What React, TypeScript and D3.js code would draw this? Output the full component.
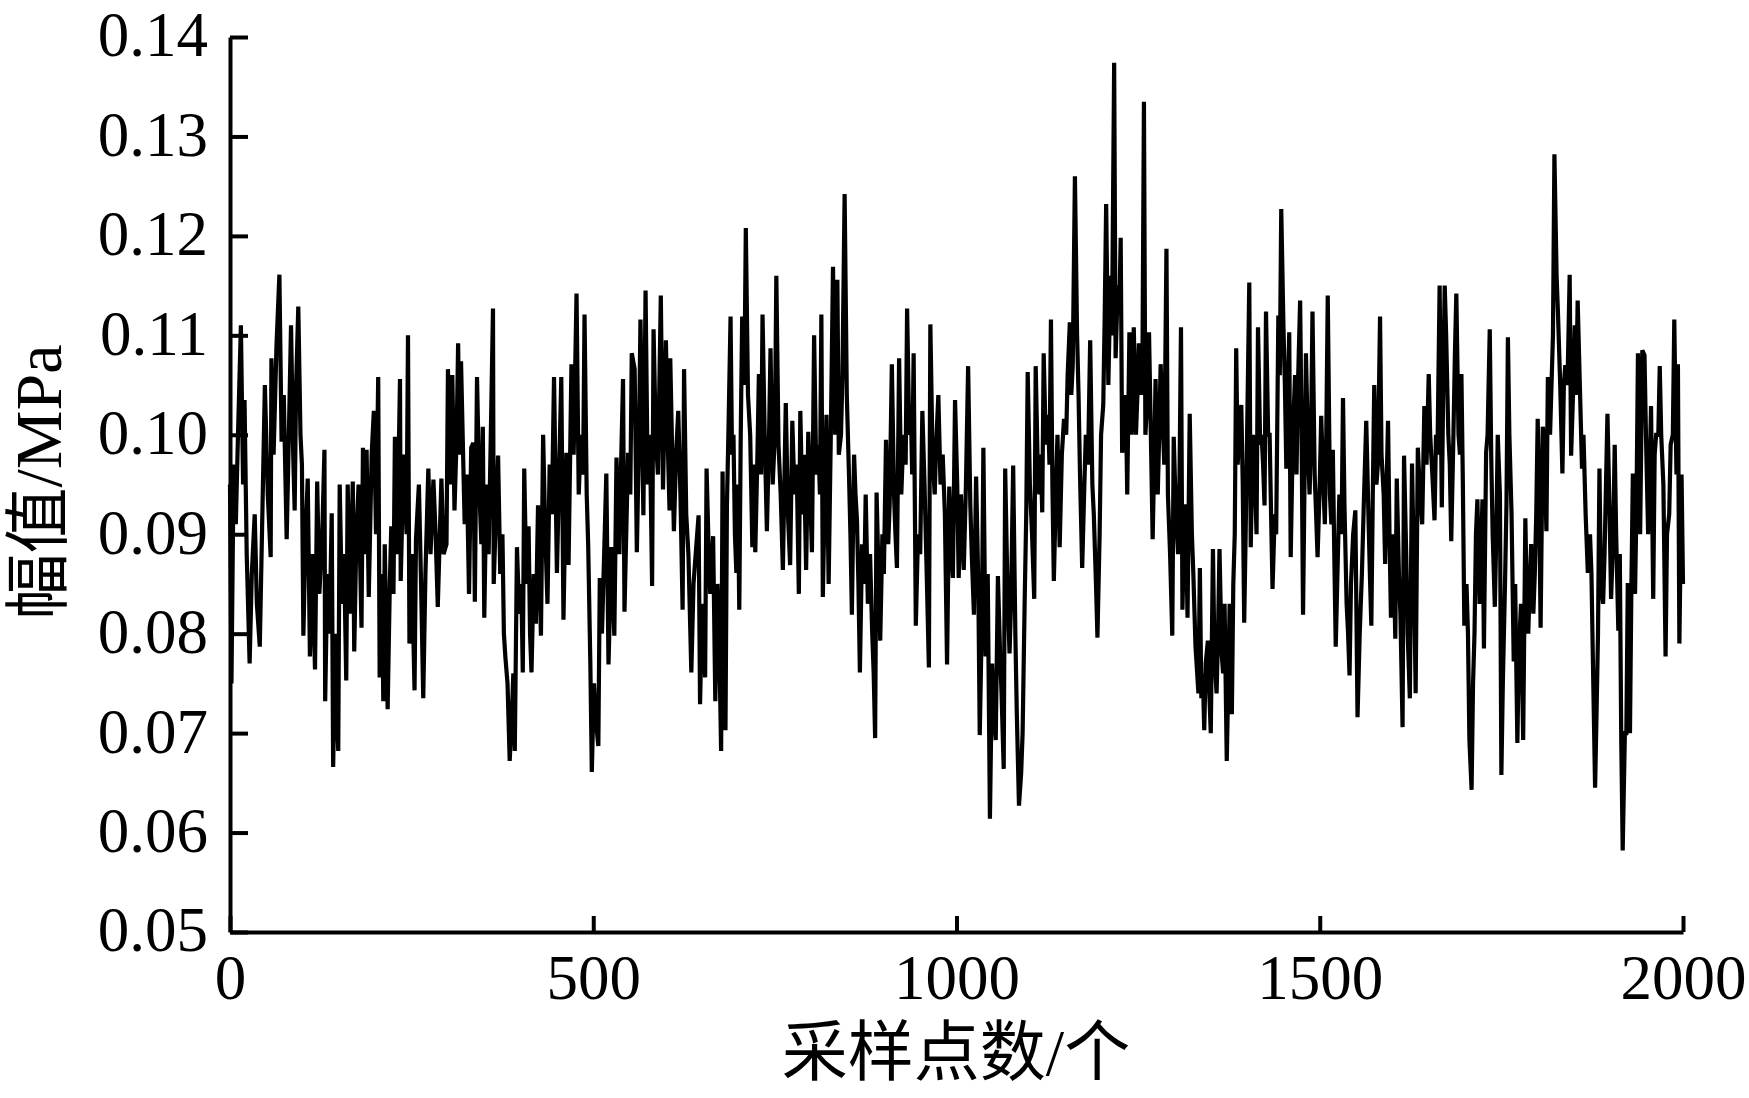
import React, { useEffect, useRef } from 'react';
import * as d3 from 'd3';

// [sample index, amplitude MPa] in six stretches
const part1: [number, number][] = [
  [0, 0.095], [2, 0.075], [5, 0.097], [8, 0.091], [11, 0.1], [15, 0.111], [18, 0.095], [20, 0.1035], [23, 0.088], [27, 0.077],
  [30, 0.086], [34, 0.092], [37, 0.083], [41, 0.0787], [44, 0.09], [48, 0.105], [52, 0.094], [56, 0.0877], [57, 0.1077], [60, 0.098],
  [64, 0.109], [68, 0.1161], [71, 0.0993], [74, 0.104], [78, 0.0895], [81, 0.1], [84, 0.111], [87, 0.098], [89, 0.0924], [91, 0.105],
  [94, 0.1129], [97, 0.1], [99, 0.097], [101, 0.0798], [104, 0.09], [107, 0.0956], [110, 0.0777], [113, 0.088], [117, 0.0764], [120, 0.0953],
  [123, 0.084], [127, 0.09], [130, 0.0985], [131, 0.0732], [134, 0.086], [137, 0.08], [140, 0.0921], [142, 0.0666], [145, 0.08], [147, 0.072],
  [149, 0.0682], [151, 0.095], [154, 0.083], [157, 0.088], [160, 0.0753], [162, 0.095], [165, 0.082], [169, 0.0953], [171, 0.0782], [174, 0.09],
  [177, 0.095], [181, 0.0806], [183, 0.0987], [186, 0.088], [188, 0.0985], [191, 0.0837], [195, 0.098], [198, 0.1024], [201, 0.09], [204, 0.1058],
  [206, 0.0756], [209, 0.086], [211, 0.0732], [213, 0.089], [217, 0.0724], [220, 0.085], [222, 0.0908], [225, 0.084], [227, 0.0998], [230, 0.088],
  [234, 0.1056], [235, 0.0853], [238, 0.095], [240, 0.098], [243, 0.09], [245, 0.11], [247, 0.079], [250, 0.088], [254, 0.0743], [256, 0.0895],
  [260, 0.095], [263, 0.085], [266, 0.0735], [269, 0.086], [273, 0.0966], [276, 0.088], [280, 0.0955], [283, 0.09], [286, 0.0827], [291, 0.0956],
  [294, 0.088], [298, 0.089], [300, 0.1066], [303, 0.095], [306, 0.106], [309, 0.0924], [312, 0.1], [314, 0.1092], [316, 0.098], [318, 0.1074],
  [323, 0.091], [326, 0.096], [329, 0.084], [332, 0.0987],
];

const part2: [number, number][] = [
  [335, 0.0992], [337, 0.0832], [340, 0.1058], [343, 0.095], [346, 0.089], [348, 0.1008], [350, 0.0816], [353, 0.095], [356, 0.088], [359, 0.1],
  [362, 0.1127], [363, 0.085], [366, 0.092], [369, 0.0979], [372, 0.086], [375, 0.09], [377, 0.08], [379, 0.0777], [382, 0.075], [385, 0.0672],
  [388, 0.072], [390, 0.076], [392, 0.0682], [395, 0.0887], [398, 0.082], [401, 0.085], [403, 0.0761], [405, 0.0966], [408, 0.085], [411, 0.0908],
  [413, 0.08], [415, 0.0761], [418, 0.086], [421, 0.081], [424, 0.0929], [428, 0.0798], [431, 0.1], [434, 0.09], [437, 0.083], [440, 0.097],
  [443, 0.092], [446, 0.1058], [450, 0.0861], [453, 0.096], [456, 0.1058], [459, 0.0814], [463, 0.0982], [466, 0.0869], [470, 0.1071], [473, 0.098],
  [477, 0.1142], [480, 0.094], [483, 0.1], [486, 0.096], [488, 0.1121], [491, 0.094], [493, 0.089], [496, 0.077], [498, 0.0661], [501, 0.075],
  [504, 0.071], [507, 0.0687], [509, 0.0856], [512, 0.08], [515, 0.088], [518, 0.0961], [521, 0.0769], [525, 0.0887], [529, 0.0798], [532, 0.0977],
  [536, 0.088], [538, 0.096], [541, 0.1056], [543, 0.0822], [546, 0.092], [548, 0.0982], [551, 0.094], [553, 0.1082], [557, 0.1066], [560, 0.0882],
  [563, 0.1], [565, 0.1116], [569, 0.0919], [572, 0.1145], [575, 0.095], [578, 0.1], [581, 0.0848], [583, 0.1106], [586, 0.1], [589, 0.096],
  [593, 0.114], [596, 0.0945], [600, 0.1095], [603, 0.098], [605, 0.0924], [606, 0.1077], [609, 0.097], [611, 0.0903], [614, 0.098], [617, 0.1024],
  [620, 0.094], [623, 0.0824], [625, 0.1066], [628, 0.092], [631, 0.088], [635, 0.0761], [638, 0.085], [641, 0.088], [645, 0.0919], [647, 0.0729],
  [650, 0.083], [654, 0.0756], [656, 0.0966], [659, 0.088], [661, 0.084], [665, 0.0898],
];

const part3: [number, number][] = [
  [668, 0.0732], [671, 0.085], [673, 0.081], [676, 0.0682], [678, 0.0963], [682, 0.0703], [684, 0.0929], [686, 0.1], [689, 0.1119], [691, 0.098],
  [693, 0.1], [695, 0.09], [697, 0.0861], [699, 0.095], [701, 0.0824], [703, 0.1], [705, 0.1119], [708, 0.105], [710, 0.1208], [713, 0.104],
  [716, 0.1], [719, 0.0887], [721, 0.097], [723, 0.0882], [726, 0.098], [728, 0.1061], [731, 0.096], [733, 0.1121], [736, 0.1], [739, 0.0903],
  [742, 0.1], [744, 0.1087], [747, 0.095], [750, 0.1], [752, 0.116], [755, 0.099], [758, 0.094], [761, 0.0864], [765, 0.1032], [768, 0.092],
  [771, 0.0869], [774, 0.1014], [777, 0.094], [780, 0.097], [783, 0.084], [785, 0.1024], [788, 0.092], [790, 0.098], [793, 0.0864], [796, 0.1003],
  [799, 0.093], [801, 0.0882], [804, 0.11], [807, 0.096], [810, 0.099], [812, 0.094], [814, 0.1121], [816, 0.0837], [819, 0.095], [821, 0.102],
  [824, 0.085], [827, 0.1], [830, 0.1169], [833, 0.1], [836, 0.1156], [838, 0.098], [841, 0.1], [843, 0.106], [846, 0.1242], [849, 0.104],
  [852, 0.096], [854, 0.09], [856, 0.0819], [859, 0.098], [861, 0.094], [863, 0.0914], [865, 0.085], [867, 0.0761], [870, 0.089], [873, 0.085],
  [875, 0.094], [878, 0.083], [881, 0.088], [884, 0.08], [886, 0.076], [888, 0.0695], [890, 0.0942], [893, 0.085], [895, 0.0793], [898, 0.09],
  [900, 0.086], [903, 0.0995], [906, 0.089], [908, 0.093], [911, 0.1071], [914, 0.094], [916, 0.09], [918, 0.0866], [921, 0.1077], [924, 0.094],
  [927, 0.1], [930, 0.097], [932, 0.1127], [935, 0.1], [937, 0.103], [939, 0.096], [941, 0.1082], [944, 0.0808], [947, 0.09], [950, 0.088],
  [953, 0.1024], [956, 0.095], [959, 0.086], [962, 0.0766], [964, 0.1111], [967, 0.098], [970, 0.094], [972, 0.099], [975, 0.104], [978, 0.095],
  [981, 0.098], [984, 0.092], [987, 0.0769], [990, 0.0948], [993, 0.088], [995, 0.0856], [998, 0.1035],
];

const part4: [number, number][] = [
  [1001, 0.095], [1003, 0.0856], [1006, 0.094], [1008, 0.09], [1010, 0.0864], [1013, 0.095], [1016, 0.1069], [1019, 0.093], [1021, 0.088], [1024, 0.0819],
  [1027, 0.0958], [1030, 0.085], [1032, 0.0698], [1035, 0.082], [1037, 0.0987], [1040, 0.0777], [1043, 0.086], [1046, 0.0614], [1049, 0.077], [1051, 0.073],
  [1054, 0.0693], [1057, 0.0858], [1060, 0.078], [1062, 0.074], [1065, 0.0664], [1067, 0.0966], [1070, 0.085], [1073, 0.078], [1075, 0.083], [1078, 0.0969],
  [1081, 0.08], [1083, 0.072], [1086, 0.0627], [1089, 0.066], [1091, 0.07], [1094, 0.084], [1096, 0.092], [1098, 0.1063], [1101, 0.095], [1104, 0.09],
  [1107, 0.0835], [1109, 0.1069], [1112, 0.096], [1114, 0.094], [1116, 0.098], [1118, 0.0922], [1120, 0.1082], [1123, 0.099], [1126, 0.102], [1128, 0.097],
  [1130, 0.1116], [1132, 0.095], [1134, 0.0853], [1137, 0.095], [1139, 0.1], [1142, 0.0887], [1145, 0.098], [1148, 0.1016], [1151, 0.1], [1153, 0.106],
  [1156, 0.1113], [1158, 0.104], [1160, 0.107], [1163, 0.126], [1166, 0.11], [1168, 0.104], [1170, 0.096], [1173, 0.0866], [1176, 0.095], [1178, 0.1],
  [1181, 0.097], [1184, 0.1095], [1187, 0.095], [1189, 0.092], [1192, 0.085], [1194, 0.0796], [1197, 0.09], [1199, 0.1], [1202, 0.103], [1204, 0.112],
  [1206, 0.1232], [1209, 0.105], [1212, 0.116], [1214, 0.11], [1217, 0.1374], [1219, 0.1077], [1222, 0.115], [1224, 0.112], [1226, 0.1198], [1228, 0.0982],
  [1231, 0.1], [1233, 0.104], [1235, 0.094], [1238, 0.1103], [1241, 0.1], [1244, 0.1108], [1247, 0.1], [1249, 0.104], [1251, 0.1092], [1254, 0.104],
  [1256, 0.108], [1258, 0.1335], [1260, 0.1], [1263, 0.104], [1265, 0.1103], [1268, 0.098], [1270, 0.0895], [1272, 0.097], [1274, 0.1056], [1277, 0.094],
  [1279, 0.1], [1281, 0.1071], [1284, 0.101], [1286, 0.097], [1289, 0.1187], [1291, 0.094], [1294, 0.088], [1297, 0.0798], [1299, 0.0998], [1302, 0.092],
  [1305, 0.088], [1307, 0.096], [1309, 0.1108], [1311, 0.0824], [1314, 0.093], [1316, 0.09], [1318, 0.0816], [1321, 0.1021], [1324, 0.09], [1326, 0.086],
  [1329, 0.0787], [1333, 0.074],
];

const part5: [number, number][] = [
  [1335, 0.0866], [1337, 0.0735], [1339, 0.076], [1341, 0.0703], [1343, 0.077], [1346, 0.0793], [1348, 0.074], [1350, 0.07], [1353, 0.0885], [1355, 0.078],
  [1358, 0.074], [1360, 0.08], [1362, 0.0885], [1365, 0.078], [1367, 0.076], [1369, 0.083], [1372, 0.0672], [1374, 0.075], [1376, 0.083], [1379, 0.0719],
  [1381, 0.085], [1383, 0.09], [1385, 0.1087], [1387, 0.097], [1389, 0.1], [1392, 0.103], [1394, 0.095], [1396, 0.0811], [1398, 0.09], [1400, 0.1],
  [1403, 0.1153], [1405, 0.0887], [1408, 0.1], [1410, 0.098], [1413, 0.09], [1415, 0.1108], [1418, 0.099], [1420, 0.1], [1422, 0.097], [1424, 0.0929],
  [1426, 0.1124], [1429, 0.1], [1431, 0.1], [1433, 0.092], [1435, 0.0845], [1438, 0.092], [1440, 0.09], [1443, 0.112], [1445, 0.106], [1447, 0.1227],
  [1450, 0.111], [1452, 0.105], [1454, 0.0966], [1456, 0.104], [1458, 0.1103], [1460, 0.0877], [1463, 0.1], [1466, 0.106], [1468, 0.096], [1470, 0.105],
  [1473, 0.1135], [1475, 0.1], [1477, 0.0819], [1479, 0.095], [1481, 0.1082], [1484, 0.098], [1486, 0.094], [1488, 0.1], [1490, 0.1124], [1493, 0.096],
  [1495, 0.092], [1497, 0.0877], [1500, 0.095], [1502, 0.1019], [1505, 0.095], [1507, 0.091], [1509, 0.1], [1511, 0.114], [1514, 0.094], [1516, 0.091],
  [1518, 0.0985], [1520, 0.088], [1522, 0.0787], [1525, 0.088], [1527, 0.094], [1530, 0.09], [1532, 0.1037], [1534, 0.093], [1537, 0.083], [1539, 0.08],
  [1541, 0.0758], [1543, 0.085], [1546, 0.09], [1549, 0.0924], [1552, 0.0716], [1555, 0.08], [1558, 0.086], [1561, 0.094], [1564, 0.1014], [1567, 0.092],
  [1569, 0.086], [1571, 0.0808], [1573, 0.094], [1575, 0.105], [1578, 0.095], [1580, 0.097], [1583, 0.1119], [1585, 0.098], [1588, 0.094], [1590, 0.087],
  [1592, 0.095], [1594, 0.1014], [1596, 0.09], [1598, 0.0816], [1601, 0.09], [1604, 0.0795], [1606, 0.0956], [1609, 0.086], [1611, 0.082], [1614, 0.0706],
  [1616, 0.0979], [1619, 0.088], [1621, 0.08], [1624, 0.0735], [1627, 0.0971], [1630, 0.085], [1632, 0.074], [1635, 0.0987], [1638, 0.094], [1641, 0.091],
  [1644, 0.1029], [1647, 0.097], [1650, 0.1061], [1652, 0.1], [1655, 0.096], [1658, 0.0914], [1660, 0.1], [1662, 0.098], [1665, 0.115],
];

const part6: [number, number][] = [
  [1668, 0.0927], [1670, 0.105], [1672, 0.115], [1674, 0.11], [1677, 0.1], [1679, 0.097], [1681, 0.0893], [1684, 0.1], [1686, 0.108], [1688, 0.1142],
  [1691, 0.1], [1693, 0.098], [1695, 0.1061], [1697, 0.095], [1699, 0.0808], [1702, 0.085], [1704, 0.08], [1706, 0.0693], [1709, 0.0643], [1711, 0.075],
  [1713, 0.08], [1715, 0.09], [1717, 0.0935], [1720, 0.083], [1722, 0.088], [1724, 0.0935], [1726, 0.0785], [1729, 0.0982], [1731, 0.1], [1734, 0.1106],
  [1736, 0.098], [1738, 0.09], [1741, 0.0827], [1743, 0.09], [1745, 0.1], [1748, 0.094], [1750, 0.0658], [1752, 0.075], [1755, 0.085], [1757, 0.093],
  [1759, 0.1098], [1761, 0.1], [1764, 0.092], [1767, 0.0772], [1769, 0.085], [1772, 0.069], [1774, 0.078], [1777, 0.083], [1780, 0.0693], [1783, 0.0916],
  [1785, 0.083], [1787, 0.08], [1789, 0.085], [1791, 0.089], [1794, 0.082], [1796, 0.086], [1798, 0.092], [1800, 0.1016], [1802, 0.094], [1804, 0.0806],
  [1807, 0.1008], [1809, 0.1], [1812, 0.0903], [1814, 0.1058], [1817, 0.1], [1819, 0.105], [1821, 0.11], [1823, 0.1282], [1826, 0.116], [1828, 0.112],
  [1831, 0.105], [1834, 0.0961], [1836, 0.105], [1838, 0.107], [1841, 0.105], [1844, 0.1161], [1846, 0.0979], [1849, 0.105], [1851, 0.111], [1853, 0.104],
  [1855, 0.1135], [1858, 0.105], [1861, 0.0966], [1863, 0.1], [1866, 0.092], [1869, 0.0861], [1872, 0.09], [1874, 0.086], [1876, 0.0772], [1879, 0.0645],
  [1881, 0.072], [1883, 0.08], [1885, 0.0966], [1887, 0.085], [1890, 0.083], [1892, 0.088], [1894, 0.095], [1896, 0.1021], [1899, 0.092], [1901, 0.0835],
  [1904, 0.09], [1906, 0.099], [1908, 0.09], [1911, 0.0803], [1913, 0.088], [1915, 0.0693], [1917, 0.0582], [1920, 0.07], [1922, 0.07], [1924, 0.0851],
  [1927, 0.07], [1929, 0.085], [1931, 0.0961], [1934, 0.084], [1936, 0.093], [1938, 0.1082], [1941, 0.09], [1944, 0.1085], [1947, 0.108], [1949, 0.1],
  [1952, 0.09], [1954, 0.096], [1956, 0.1029], [1959, 0.0835], [1961, 0.098], [1963, 0.1], [1966, 0.1], [1968, 0.1069], [1970, 0.1], [1973, 0.095],
  [1976, 0.0777], [1978, 0.09], [1981, 0.092], [1983, 0.099], [1986, 0.1], [1988, 0.1116], [1991, 0.096], [1993, 0.1071], [1995, 0.079], [1998, 0.096],
  [2000, 0.085],
];

const xTicks = [0, 500, 1000, 1500, 2000];
const yTicks = [0.05, 0.06, 0.07, 0.08, 0.09, 0.1, 0.11, 0.12, 0.13, 0.14];
const xTitle = '采样点数/个';
const yTitle = '幅值/MPa';

export default function App() {
  const ref = useRef<SVGSVGElement>(null);

  useEffect(() => {
    const W = 1749;
    const H = 1098;
    const margin = { top: 37, right: 66, bottom: 166, left: 230 };
    const font = '"Liberation Serif", "Times New Roman", "Noto Sans CJK SC", serif';

    const svg = d3.select(ref.current);
    svg.selectAll('*').remove();

    const series = [...part1, ...part2, ...part3, ...part4, ...part5, ...part6];

    const x = d3.scaleLinear().domain([0, 2000]).range([margin.left, W - margin.right]);
    const y = d3.scaleLinear().domain([0.05, 0.14]).range([H - margin.bottom, margin.top]);

    const line = d3
      .line<[number, number]>()
      .x((d) => x(d[0]))
      .y((d) => y(d[1]));

    svg
      .append('path')
      .datum(series)
      .attr('d', line)
      .attr('fill', 'none')
      .attr('stroke', '#000')
      .attr('stroke-width', 4.2)
      .attr('stroke-linejoin', 'miter')
      .attr('stroke-miterlimit', 2);

    const xAxis = d3
      .axisBottom(x)
      .tickValues(xTicks)
      .tickSizeInner(-16)
      .tickSizeOuter(0)
      .tickPadding(22)
      .tickFormat((d) => String(d));

    const yAxis = d3
      .axisLeft(y)
      .tickValues(yTicks)
      .tickSizeInner(-18)
      .tickSizeOuter(0)
      .tickPadding(22)
      .tickFormat(d3.format('.2f'));

    const gx = svg
      .append('g')
      .attr('transform', `translate(0, ${H - margin.bottom})`)
      .call(xAxis);

    const gy = svg
      .append('g')
      .attr('transform', `translate(${margin.left}, 0)`)
      .call(yAxis);

    for (const g of [gx, gy]) {
      g.select('.domain').attr('stroke', '#000').attr('stroke-width', 4);
      g.selectAll('.tick line').attr('stroke', '#000').attr('stroke-width', 4);
      g.selectAll('.tick text')
        .attr('fill', '#000')
        .style('font-family', font)
        .style('font-size', '63px');
    }
    gy.selectAll('.tick text').attr('dy', '0.3em');
    gx.selectAll('.tick text').attr('dy', '0.72em');

    svg
      .append('text')
      .attr('x', 956)
      .attr('y', 1052)
      .attr('text-anchor', 'middle')
      .attr('dominant-baseline', 'central')
      .style('font-family', font)
      .style('font-size', '66px')
      .text(xTitle);

    svg
      .append('text')
      .attr('transform', 'translate(38, 482) rotate(-90)')
      .attr('text-anchor', 'middle')
      .attr('dominant-baseline', 'central')
      .style('font-family', font)
      .style('font-size', '66px')
      .text(yTitle);
  }, []);

  return (
    <svg
      ref={ref}
      width={1749}
      height={1098}
      style={{ position: 'absolute', left: 0, top: 0, background: '#fff' }}
    />
  );
}
